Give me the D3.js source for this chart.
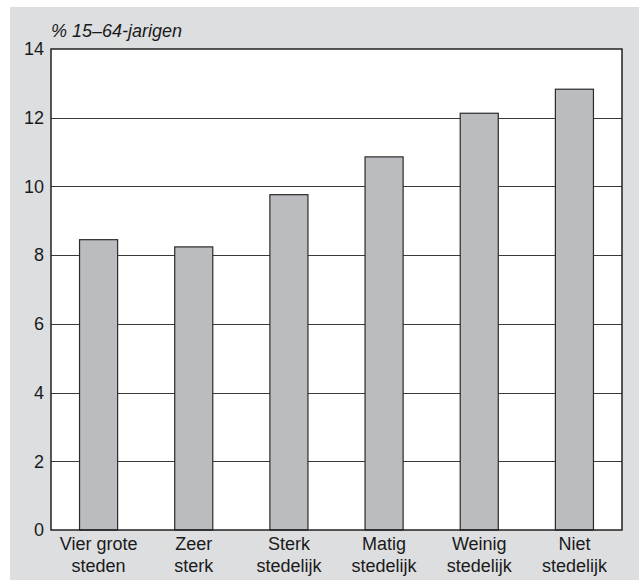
<!DOCTYPE html>
<html>
<head>
<meta charset="utf-8">
<script src="https://cdn.jsdelivr.net/npm/d3@7"></script>
<style>
  body { margin: 0; background: #fff; }
  text { font-family: "Liberation Sans", Arial, sans-serif; fill: #1a1a1a; }
</style>
</head>
<body>
<script>
// Data
const categories = [
  ['Vier grote', 'steden'],
  ['Zeer', 'sterk'],
  ['Sterk', 'stedelijk'],
  ['Matig', 'stedelijk'],
  ['Weinig', 'stedelijk'],
  ['Niet', 'stedelijk']
];
const values = [8.45, 8.24, 9.76, 10.86, 12.13, 12.83];
const yTicks = [0, 2, 4, 6, 8, 10, 12, 14];
const yTitle = '% 15\u201364-jarigen';

const WIDTH = 639;
const HEIGHT = 580;
const PLOT = {left: 51, top: 49, right: 622, bottom: 530};

const svg = d3.select('body')
  .append('svg')
  .attr('width', WIDTH)
  .attr('height', HEIGHT);

// grey backdrop
svg.append('rect')
  .attr('x', 10)
  .attr('y', 7)
  .attr('width', WIDTH - 10)
  .attr('height', HEIGHT - 7)
  .attr('fill', '#dddee0');

svg.append('rect')
  .attr('x', PLOT.left)
  .attr('y', PLOT.top)
  .attr('width', PLOT.right - PLOT.left)
  .attr('height', PLOT.bottom - PLOT.top)
  .attr('fill', '#fff');

const x = d3.scaleBand()
  .domain(d3.range(categories.length))
  .range([PLOT.left, PLOT.right])
  .paddingInner(0.6)
  .paddingOuter(0.3);

const y = d3.scaleLinear()
  .domain([0, 14])
  .range([PLOT.bottom, PLOT.top]);

// gridlines
svg.append('g')
  .selectAll('line')
  .data(yTicks.slice(1, -1))
  .enter().append('line')
  .attr('x1', PLOT.left)
  .attr('x2', PLOT.right)
  .attr('y1', d => Math.round(y(d)) + 0.5)
  .attr('y2', d => Math.round(y(d)) + 0.5)
  .attr('stroke', '#3a3a3a')
  .attr('stroke-width', 1);

// bars
svg.append('g')
  .selectAll('rect')
  .data(values)
  .enter().append('rect')
  .attr('x', (d, i) => x(i))
  .attr('y', d => y(d))
  .attr('width', x.bandwidth())
  .attr('height', d => y(0) - y(d))
  .attr('fill', '#bbbcc0')
  .attr('stroke', '#2a2a2a')
  .attr('stroke-width', 1.2);

// frame
svg.append('rect')
  .attr('x', PLOT.left)
  .attr('y', PLOT.top)
  .attr('width', PLOT.right - PLOT.left)
  .attr('height', PLOT.bottom - PLOT.top)
  .attr('fill', 'none')
  .attr('stroke', '#222')
  .attr('stroke-width', 1.5);

// y axis labels
const yAxis = d3.axisLeft(y)
  .tickValues(yTicks)
  .tickSize(0)
  .tickPadding(7);
const yg = svg.append('g')
  .attr('transform', 'translate(' + PLOT.left + ',0)')
  .call(yAxis);
yg.select('.domain').remove();
yg.selectAll('text')
  .style('font-size', '18px')
  .style('font-family', '"Liberation Sans", Arial, sans-serif')
  .attr('fill', '#1a1a1a');

// x axis labels (two lines)
const xl = svg.append('g')
  .selectAll('text')
  .data(categories)
  .enter().append('text')
  .attr('x', (d, i) => x(i) + x.bandwidth() / 2)
  .attr('y', 550)
  .attr('text-anchor', 'middle')
  .style('font-size', '18px');
xl.append('tspan')
  .attr('x', (d, i) => x(i) + x.bandwidth() / 2)
  .text(d => d[0]);
xl.append('tspan')
  .attr('x', (d, i) => x(i) + x.bandwidth() / 2)
  .attr('dy', 21.5)
  .text(d => d[1]);

// axis title
svg.append('text')
  .attr('x', PLOT.left)
  .attr('y', 37)
  .style('font-size', '18px')
  .style('font-style', 'italic')
  .text(yTitle);
</script>
</body>
</html>
